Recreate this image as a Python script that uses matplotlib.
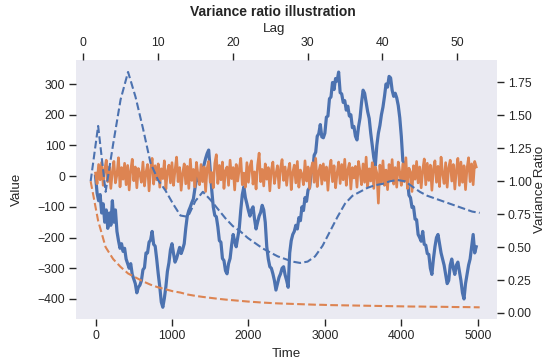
import numpy as np
import matplotlib.pyplot as plt

plt.rcParams['font.family'] = ['Liberation Sans', 'DejaVu Sans']
plt.rcParams['text.color'] = '.15'
plt.rcParams['axes.labelcolor'] = '.15'
plt.rcParams['xtick.color'] = '.15'
plt.rcParams['ytick.color'] = '.15'

# time axis, one sample every 20 steps
time = np.arange(0, 5000, 20)

random_walk = [
    0, -55, -80, -60, -120, -90, -150, -110, -170, -120,
    -160, -80, -150, -110, -180, -210, -235, -220, -245, -235,
    -270, -285, -300, -285, -320, -335, -350, -380, -362, -355,
    -340, -305, -298, -250, -250, -215, -208, -180, -222, -228,
    -270, -318, -360, -410, -427, -398, -360, -310, -282, -240,
    -220, -252, -280, -268, -250, -232, -252, -238, -220, -170,
    -130, -112, -100, -86, -74, -40, -12, 0, -18, 10,
    20, 38, 58, 74, 85, 18, -45, -100, -128, -132,
    -165, -210, -215, -268, -275, -308, -318, -285, -268, -225,
    -190, -212, -230, -200, -170, -110, -60, -35, -70, -90,
    -112, -130, -110, -100, -140, -172, -150, -130, -118, -95,
    -110, -150, -230, -270, -295, -300, -318, -340, -371, -350,
    -330, -318, -300, -295, -322, -340, -362, -250, -210, -190,
    -180, -160, -172, -135, -145, -100, -112, -70, -82, -45,
    -38, 10, 15, 68, 78, 130, 138, 168, 128, 125,
    140, 192, 196, 252, 258, 305, 282, 318, 310, 339,
    272, 268, 240, 246, 215, 228, 196, 200, 158, 162,
    130, 118, 160, 190, 240, 280, 270, 240, 210, 188,
    140, 100, 60, 35, 100, 140, 165, 200, 225, 260,
    300, 290, 325, 320, 280, 260, 270, 255, 230, 190,
    130, 50, 40, -5, -10, -62, -70, -102, -100, -140,
    -142, -190, -200, -212, -180, -222, -225, -252, -255, -300,
    -320, -270, -230, -200, -190, -220, -250, -270, -290, -320,
    -350, -340, -290, -270, -300, -320, -290, -280, -310, -340,
    -380, -400, -350, -320, -290, -270, -230, -190, -250, -230,
]

white_noise = [
    10, -25, 38, -12, 45, -30, 20, 52, -18, 30,
    -40, 15, 48, -22, 5, 60, -35, 28, -10, 42,
    -28, 35, -45, 18, 55, -15, 30, -38, 25, 8,
    -20, 46, -32, 12, 38, -48, 22, 58, -26, 34,
    -12, 40, -36, 24, -8, 50, -42, 16, 36, -22,
    44, -30, 20, 62, -18, 28, -46, 10, 40, -25,
    32, -40, 55, -14, 22, -35, 45, 5, -28, 38,
    -18, 30, -50, 26, 48, -20, 12, -38, 42, 70,
    -24, 35, -12, 46, -40, 18, 30, -30, 52, -8,
    28, -45, 38, -16, 24, 58, -28, 10, -36, 44,
    -20, 32, 50, -26, 14, -42, 36, 75, -18, 22,
    -32, 40, -10, 28, -48, 20, 46, -24, 8, 34,
    -38, 26, 54, -14, 30, -30, 18, 42, -44, 12,
    36, -22, 48, -36, 20, 6, -28, 50, -16, 30,
    -40, 24, 44, -20, 58, -34, 14, 36, -26, 40,
    -14, 30, -46, 22, 52, -18, 34, -38, 10, 46,
    -24, 38, -12, 55, -30, 20, 42, -42, 28, -6,
    32, -36, 48, 16, -28, 40, -20, 62, -34, 24,
    -16, 44, -40, 30, 10, -88, 36, -22, 50, -30,
    20, -44, 38, -12, 54, -26, 28, -36, 46, 12,
    -30, 40, -18, 60, -40, 26, 14, -50, 34, -10,
    48, -22, 30, -38, 20, 56, -28, 42, -14, 36,
    -46, 24, 50, -20, 32, -34, 62, 8, -24, 44,
    -36, 28, 52, -16, 38, -42, 20, 58, -30, 46,
    -20, 34, -44, 26, 60, -18, 40, -28, 48, 30,
]

lags = np.arange(1, 54)

vr_random_walk = [
    1.00, 1.42, 0.92, 1.28, 1.62, 1.83, 1.64, 1.40, 1.14, 1.01,
    0.93, 0.83, 0.74, 0.73, 0.85, 0.92, 0.86, 0.79, 0.72, 0.66,
    0.62, 0.57, 0.53, 0.49, 0.46, 0.43, 0.41, 0.39, 0.38, 0.39,
    0.43, 0.51, 0.62, 0.73, 0.83, 0.89, 0.92, 0.95, 0.97, 0.98,
    1.00, 1.01, 1.00, 0.96, 0.92, 0.89, 0.87, 0.85, 0.83, 0.81,
    0.79, 0.77, 0.76,
]

vr_white_noise = [
    1.00, 0.70, 0.50, 0.41, 0.35, 0.30, 0.27, 0.24, 0.215, 0.195,
    0.18, 0.165, 0.155, 0.14, 0.13, 0.122, 0.115, 0.108, 0.102, 0.097,
    0.092, 0.087, 0.083, 0.079, 0.076, 0.073, 0.071, 0.069, 0.067, 0.065,
    0.063, 0.062, 0.060, 0.059, 0.058, 0.057, 0.056, 0.055, 0.054, 0.053,
    0.052, 0.051, 0.050, 0.049, 0.049, 0.048, 0.047, 0.047, 0.046, 0.045,
    0.045, 0.044, 0.043,
]

blue = '#4C72B0'
orange = '#DD8452'
rect = [0.140, 0.119, 0.770, 0.715]

fig = plt.figure(figsize=(5.46, 3.62), dpi=100)

ax = fig.add_axes(rect)
ax.set_facecolor('#EAEAF2')
for s in ax.spines.values():
    s.set_visible(False)
ax.plot(time, random_walk, color=blue, lw=2.3)
ax.plot(time, white_noise, color=orange, lw=1.9)
ax.set_xlim(-250, 5250)
ax.set_ylim(-465, 378)
ax.set_xticks(range(0, 5001, 1000))
ax.set_yticks(range(-400, 301, 100))
ax.tick_params(labelsize=8.8, length=5, width=1, pad=3)
ax.set_xlabel('Time', fontsize=9.6)
ax.set_ylabel('Value', fontsize=9.6)
ax.xaxis.set_label_coords(0.5, -0.112)
ax.yaxis.set_label_coords(-0.128, 0.5)

# second set of axes for the variance ratio against lag
ax2 = fig.add_axes(rect, frameon=False)
ax2.patch.set_visible(False)
ax2.xaxis.tick_top()
ax2.xaxis.set_label_position('top')
ax2.yaxis.tick_right()
ax2.yaxis.set_label_position('right')
ax2.plot(lags, vr_random_walk, '--', color=blue, lw=1.5)
ax2.plot(lags, vr_white_noise, '--', color=orange, lw=1.5)
ax2.set_xlim(-0.9, 55.3)
ax2.set_ylim(-0.045, 1.92)
ax2.set_xticks(range(0, 51, 10))
ax2.set_yticks(np.arange(0, 1.76, 0.25))
ax2.set_yticklabels([f'{v:.2f}' for v in np.arange(0, 1.76, 0.25)])
ax2.tick_params(labelsize=8.8, length=5, width=1, pad=3)
ax2.set_xlabel('Lag', fontsize=9.6)
ax2.set_ylabel('Variance Ratio', fontsize=9.6)
ax2.xaxis.set_label_coords(0.469, 1.12)
ax2.xaxis.label.set_va('center')
ax2.yaxis.set_label_coords(1.088, 0.5)

fig.text(0.5, 0.967, 'Variance ratio illustration', ha='center', va='center',
         fontsize=10, fontweight='bold')

fig.savefig('out.png', dpi=100)
